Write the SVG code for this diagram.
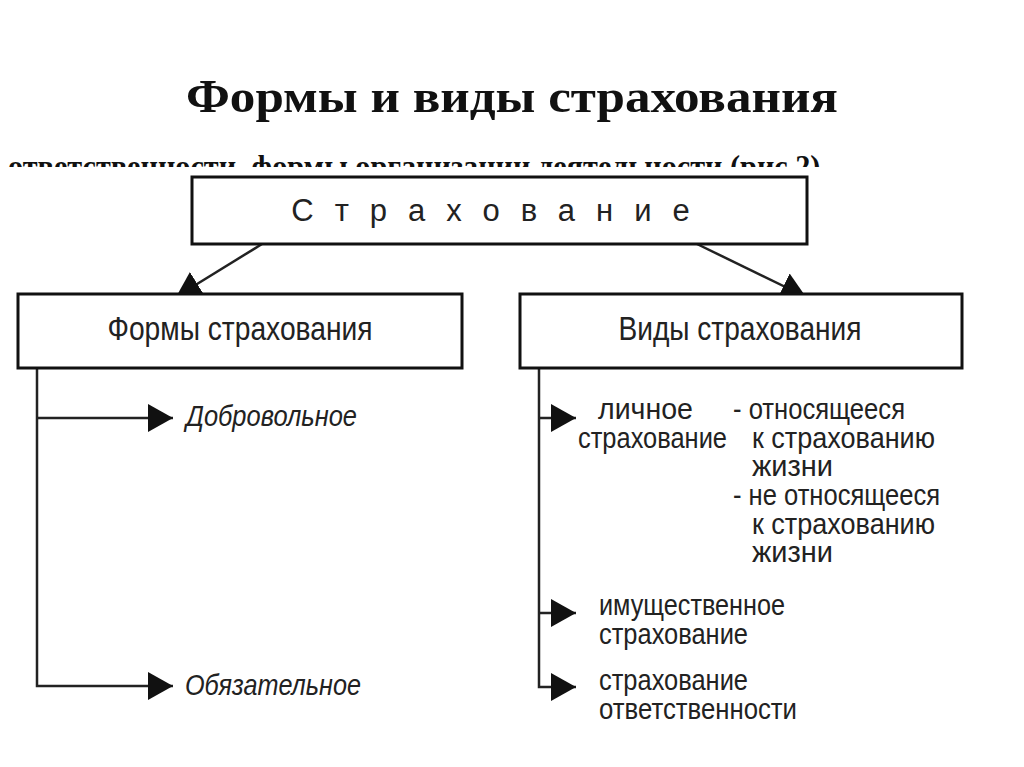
<svg xmlns="http://www.w3.org/2000/svg" width="1024" height="767" viewBox="0 0 1024 767">
<style>
.box{fill:#fff;stroke:#111;stroke-width:3}
.ln{fill:none;stroke:#222;stroke-width:2.5}
.t{font-family:"Liberation Sans",Arial,sans-serif;fill:#222}
.bt{font-size:33px;text-anchor:middle}
.it{font-size:30px;font-style:italic}
.s{font-size:29px}
</style>
<defs>
<marker id="ah" markerUnits="userSpaceOnUse" markerWidth="26" markerHeight="30" refX="25" refY="14" orient="auto">
<path d="M0,0 L25,14 L0,28 Z" fill="#111"/>
</marker>
<clipPath id="cut"><rect x="0" y="130" width="1024" height="37"/></clipPath>
</defs>
<rect width="1024" height="767" fill="#fff"/>
<text x="512" y="112" font-family="Liberation Serif,serif" font-weight="bold" font-size="46" text-anchor="middle" textLength="652" lengthAdjust="spacingAndGlyphs" fill="#111">Формы и виды страхования</text>
<g clip-path="url(#cut)">
<text x="8" y="177" font-family="Liberation Serif,serif" font-weight="bold" font-size="31" textLength="820" lengthAdjust="spacingAndGlyphs" fill="#111">ответственности, формы организации деятельности (рис.2).</text>
</g>
<g id="connectors">
<line class="ln" x1="262" y1="244" x2="176" y2="297" marker-end="url(#ah)"/>
<line class="ln" x1="697" y1="244" x2="806" y2="297" marker-end="url(#ah)"/>
<polyline class="ln" points="37,368 37,686 173,686" marker-end="url(#ah)"/>
<line class="ln" x1="37" y1="418" x2="173" y2="418" marker-end="url(#ah)"/>
<polyline class="ln" points="539,368 539,687 576,687" marker-end="url(#ah)"/>
<line class="ln" x1="539" y1="418" x2="576" y2="418" marker-end="url(#ah)"/>
<line class="ln" x1="539" y1="613" x2="576" y2="613" marker-end="url(#ah)"/>
</g>
<g id="root">
<rect class="box" x="192" y="177" width="615" height="67"/>
<text class="t" x="501" y="221" font-size="31" text-anchor="middle" letter-spacing="21">Страхование</text>
</g>
<g id="forms">
<rect class="box" x="18" y="294" width="444" height="74"/>
<text class="t bt" x="240" y="340" textLength="265" lengthAdjust="spacingAndGlyphs">Формы страхования</text>
</g>
<g id="types">
<rect class="box" x="520" y="294" width="442" height="74"/>
<text class="t bt" x="740" y="340" textLength="243" lengthAdjust="spacingAndGlyphs">Виды страхования</text>
</g>
<g id="voluntary"><text class="t it" x="186" y="426" textLength="171" lengthAdjust="spacingAndGlyphs">Добровольное</text></g>
<g id="mandatory"><text class="t it" x="185" y="695" textLength="176" lengthAdjust="spacingAndGlyphs">Обязательное</text></g>
<g id="personal">
<text class="t s" x="598" y="419" textLength="95" lengthAdjust="spacingAndGlyphs">личное</text>
<text class="t s" x="578" y="448" textLength="149" lengthAdjust="spacingAndGlyphs">страхование</text>
<text class="t s" x="733" y="419" textLength="172" lengthAdjust="spacingAndGlyphs">- относящееся</text>
<text class="t s" x="752" y="448" textLength="183" lengthAdjust="spacingAndGlyphs">к страхованию</text>
<text class="t s" x="752" y="476" textLength="81" lengthAdjust="spacingAndGlyphs">жизни</text>
<text class="t s" x="733" y="505" textLength="207" lengthAdjust="spacingAndGlyphs">- не относящееся</text>
<text class="t s" x="752" y="534" textLength="183" lengthAdjust="spacingAndGlyphs">к страхованию</text>
<text class="t s" x="752" y="562" textLength="81" lengthAdjust="spacingAndGlyphs">жизни</text>
</g>
<g id="property">
<text class="t s" x="599" y="615" textLength="186" lengthAdjust="spacingAndGlyphs">имущественное</text>
<text class="t s" x="599" y="644" textLength="149" lengthAdjust="spacingAndGlyphs">страхование</text>
</g>
<g id="liability">
<text class="t s" x="599" y="690" textLength="149" lengthAdjust="spacingAndGlyphs">страхование</text>
<text class="t s" x="599" y="719" textLength="198" lengthAdjust="spacingAndGlyphs">ответственности</text>
</g>
</svg>
